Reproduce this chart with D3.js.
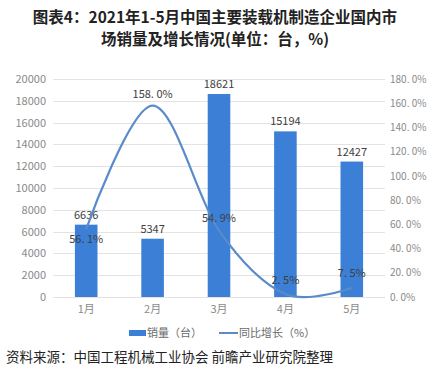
<!DOCTYPE html>
<html><head><meta charset="utf-8">
<script src="https://cdn.jsdelivr.net/npm/d3@7"></script>
<style>body{margin:0;background:#fff;}svg{display:block;font-family:"Noto Sans CJK SC","Noto Sans",sans-serif;}</style>
</head><body>
<svg id="c" width="430" height="376"></svg>
<script>
const categories = ["1月","2月","3月","4月","5月"];
const sales = [6636, 5347, 18621, 15194, 12427];
const growth = [56.1, 158.0, 54.9, 2.5, 7.5];
const growthLabels = ["56. 1%","158. 0%","54. 9%","2. 5%","7. 5%"];
const leftTicks = [0,2000,4000,6000,8000,10000,12000,14000,16000,18000,20000];
const rightTicks = [0,20,40,60,80,100,120,140,160,180];
const rightTickLabels = ["0. 0%","20. 0%","40. 0%","60. 0%","80. 0%","100. 0%","120. 0%","140. 0%","160. 0%","180. 0%"];

const svg = d3.select("#c");
const x0 = 53, x1 = 385, yTop = 79, yBot = 297;
const x = d3.scaleBand().domain(categories).range([x0, x1]).paddingInner(0.66).paddingOuter(0.33);
const yL = d3.scaleLinear().domain([0, 20000]).range([yBot, yTop]);
const yR = d3.scaleLinear().domain([0, 180]).range([yBot, yTop]);

// title
const title = svg.append("g").attr("font-weight", "bold").attr("fill", "#222").attr("font-size", 15.5).attr("text-anchor", "middle");
title.append("text").attr("x", 215).attr("y", 23).text("图表4：2021年1-5月中国主要装载机制造企业国内市");
title.append("text").attr("x", 215).attr("y", 45).text("场销量及增长情况(单位：台，%)");

// grid
svg.append("g").selectAll("line").data(leftTicks).join("line")
  .attr("x1", x0).attr("x2", x1).attr("y1", d => Math.round(yL(d)) + 0.5).attr("y2", d => Math.round(yL(d)) + 0.5)
  .attr("stroke", "#e3e3e3").attr("stroke-width", 1);

// left axis
const la = svg.append("g").attr("transform", `translate(${x0 - 7},0)`)
  .call(d3.axisLeft(yL).tickValues(leftTicks).tickSize(0).tickPadding(0).tickFormat(d3.format("d")));
la.select(".domain").remove();
la.selectAll("text").attr("fill", "#8a8a8a").attr("font-size", 11).attr("font-family", "'Noto Sans CJK SC',sans-serif");

// right axis
const ra = svg.append("g").attr("transform", `translate(${x1 + 5},0)`)
  .call(d3.axisRight(yR).tickValues(rightTicks).tickSize(0).tickPadding(0).tickFormat((d, i) => rightTickLabels[i]));
ra.select(".domain").remove();
ra.selectAll("text").attr("fill", "#8a8a8a").attr("font-size", 10).attr("font-family", "'Noto Sans CJK SC',sans-serif");

// x axis
const xa = svg.append("g").attr("transform", `translate(0,${yBot + 8})`)
  .call(d3.axisBottom(x).tickSize(0).tickPadding(0));
xa.select(".domain").remove();
xa.selectAll("text").attr("fill", "#8a8a8a").attr("font-size", 11).attr("font-family", "'Noto Sans CJK SC',sans-serif");

// bars
svg.append("g").selectAll("rect").data(sales).join("rect")
  .attr("x", (d, i) => x(categories[i])).attr("width", x.bandwidth())
  .attr("y", d => yL(d)).attr("height", d => yBot - yL(d))
  .attr("fill", "#3b7fd6");

// bar labels
svg.append("g").selectAll("text").data(sales).join("text")
  .attr("x", (d, i) => x(categories[i]) + x.bandwidth() / 2).attr("y", d => yL(d) - 6)
  .attr("text-anchor", "middle").attr("font-size", 11).attr("fill", "#404040").text(d => d);

// line
const cx = i => x(categories[i]) + x.bandwidth() / 2;
const line = d3.line().x((d, i) => cx(i)).y(d => yR(d)).curve(d3.curveCardinal.tension(0));
svg.append("path").datum(growth).attr("d", line).attr("fill", "none")
  .attr("stroke", "#5a8bc8").attr("stroke-width", 2.2);

// line labels
const offs = [14, -8, -9, -10, -11];
svg.append("g").selectAll("text").data(growth).join("text")
  .attr("x", (d, i) => cx(i)).attr("y", (d, i) => yR(d) + offs[i])
  .attr("text-anchor", "middle").attr("font-size", 11).attr("fill", "#404040")
  .text((d, i) => growthLabels[i]);

// legend
const lg = svg.append("g").attr("font-size", 11).attr("fill", "#6a6a6a");
lg.append("rect").attr("x", 129).attr("y", 330).attr("width", 17).attr("height", 6).attr("fill", "#3b7fd6");
lg.append("text").attr("x", 147).attr("y", 337).text("销量（台）");
lg.append("line").attr("x1", 219).attr("x2", 238).attr("y1", 333).attr("y2", 333).attr("stroke", "#5a8bc8").attr("stroke-width", 2);
lg.append("text").attr("x", 239).attr("y", 337).text("同比增长（%）");

// source
svg.append("text").attr("x", 6).attr("y", 362).attr("font-size", 13.5).attr("fill", "#222").text("资料来源：中国工程机械工业协会 前瞻产业研究院整理");
</script>
</body></html>
